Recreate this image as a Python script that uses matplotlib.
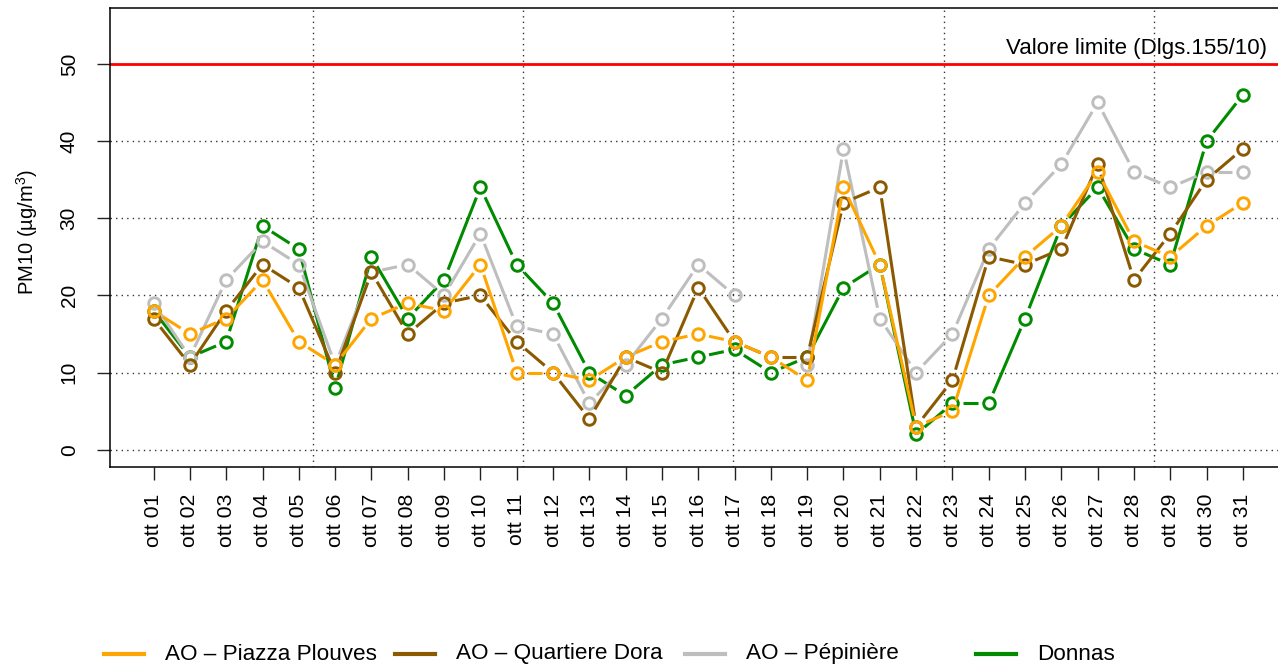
"""PM10 giornaliero - ottobre, stazioni AO e Donnas."""

import numpy as np
import matplotlib
matplotlib.use("Agg")
import matplotlib.pyplot as plt
from matplotlib.lines import Line2D

plt.rcParams["font.family"] = ["Liberation Sans", "DejaVu Sans"]
plt.rcParams["mathtext.fontset"] = "custom"
plt.rcParams["mathtext.rm"] = "Liberation Sans"

days = [f"ott {d:02d}" for d in range(1, 32)]

piazza_plouves = [18, 15, 17, 22, 14, 11, 17, 19, 18, 24, 10, 10, 9, 12, 14, 15,
                  14, 12, 9, 34, 24, 3, 5, 20, 25, 29, 36, 27, 25, 29, 32]
quartiere_dora = [17, 11, 18, 24, 21, 10, 23, 15, 19, 20, 14, 10, 4, 12, 10, 21,
                  14, 12, 12, 32, 34, 3, 9, 25, 24, 26, 37, 22, 28, 35, 39]
pepiniere = [19, 12, 22, 27, 24, 11, 23, 24, 20, 28, 16, 15, 6, 11, 17, 24,
             20, np.nan, 11, 39, 17, 10, 15, 26, 32, 37, 45, 36, 34, 36, 36]
donnas = [18, 12, 14, 29, 26, 8, 25, 17, 22, 34, 24, 19, 10, 7, 11, 12,
          13, 10, 12, 21, 24, 2, 6, 6, 17, 29, 34, 26, 24, 40, 46]

series = [
    ("AO \u2013 Piazza Plouves", piazza_plouves, "#FFA500"),
    ("AO \u2013 Quartiere Dora", quartiere_dora, "#8B5A00"),
    ("AO \u2013 P\u00e9pini\u00e8re", pepiniere, "#BEBEBE"),
    ("Donnas", donnas, "#008B00"),
]

limit_value = 50
limit_label = "Valore limite (Dlgs.155/10)"
vgrid = [4.40, 10.18, 15.96, 21.77, 27.55]

W, H = 1278, 667
fig = plt.figure(figsize=(W / 100, H / 100), dpi=100)
ax = fig.add_axes([110 / W, 1 - 466.7 / H, (1286.5 - 110) / W, (466.7 - 8.3) / H])
ax.set_xlim(-1.2, 31.2)
ax.set_ylim(-2.2, 57.2)

# grid
for yv in range(0, 50, 10):
    ax.axhline(yv, color="#333333", lw=1, linestyle=(0, (1, 3)), zorder=1)
for xv in vgrid:
    ax.axvline(xv, color="#333333", lw=1, linestyle=(0, (1, 3)), zorder=1)

ax.axhline(limit_value, color="red", lw=2, zorder=2)
ax.text(30.65, 51.3, limit_label, ha="right", va="baseline", fontsize=16)

# type="b" style: lines with gaps around the points
gap = 11
x = np.arange(len(days))
order = [3, 2, 1, 0]
for z, idx in enumerate(order):
    name, vals, col = series[idx]
    y = np.asarray(vals, dtype=float)
    pts = ax.transData.transform(np.column_stack([x, y]))
    inv = ax.transData.inverted()
    for i in range(len(x) - 1):
        p1, p2 = pts[i], pts[i + 1]
        if not (np.all(np.isfinite(p1)) and np.all(np.isfinite(p2))):
            continue
        d = p2 - p1
        L = np.hypot(*d)
        if L <= 2 * gap:
            continue
        a = inv.transform(p1 + d / L * gap)
        b = inv.transform(p2 - d / L * gap)
        ax.plot([a[0], b[0]], [a[1], b[1]], color=col, lw=2.2,
                solid_capstyle="butt", zorder=3 + z)
    ax.plot(x, y, linestyle="none", marker="o", ms=8.3, mew=2.1,
            mfc="none", mec=col, zorder=3 + z)

ax.set_yticks(range(0, 60, 10))
ax.set_yticklabels([str(v) for v in range(0, 60, 10)], rotation=90, va="center",
                   fontsize=15)
ax.set_xticks(x)
ax.set_xticklabels(days, rotation=90, fontsize=15.3)
ax.tick_params(axis="both", length=9.5, width=1, color="#222222")
ax.tick_params(axis="y", pad=13)
ax.tick_params(axis="x", pad=10)
for sp in ax.spines.values():
    sp.set_linewidth(1.1)

fig.text(27 / W, 1 - 232 / H, "PM10 (\u00b5g/m$^3$)", rotation=90,
         ha="center", va="center", fontsize=14.5)

# legend along the bottom
leg_y = 1 - 654 / H
for k, (name, vals, col) in enumerate(series):
    x0 = 104 + k * 290.7
    fig.add_artist(Line2D([x0 / W, (x0 + 40) / W], [leg_y, leg_y], color=col,
                          lw=3, transform=fig.transFigure))
    fig.text((x0 + 61) / W, leg_y, name, ha="left", va="center", fontsize=16.2)

fig.savefig("out.png", dpi=100)
